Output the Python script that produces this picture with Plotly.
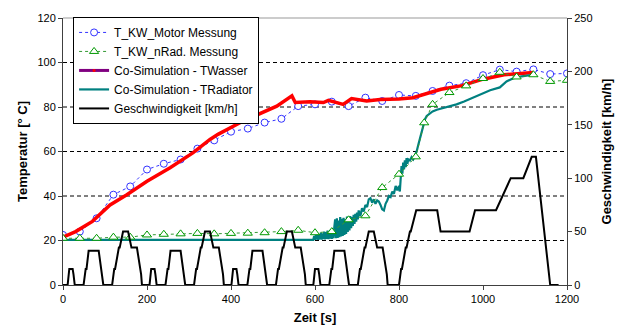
import plotly.graph_objects as go

# ---- data ----
motor_t = [0, 40, 80, 120, 160, 200, 240, 280, 320, 360, 400, 440, 480, 520, 560, 600,
           640, 680, 720, 760, 800, 840, 880, 920, 960, 1000, 1040, 1080, 1120, 1160, 1200]
motor_T = [22.5, 24.0, 30.0, 40.6, 44.3, 51.9, 54.5, 56.4, 61.3, 65.0, 68.9, 70.3, 73.0, 74.7, 80.4, 81.2,
           82.4, 80.4, 84.2, 82.7, 85.4, 85.0, 87.2, 89.6, 90.7, 94.3, 96.8, 95.9, 96.9, 94.8, 95.1]

rad_t = [0, 40, 80, 120, 160, 200, 240, 280, 320, 360, 400, 440, 480, 520, 560, 600, 640,
         680, 720, 760, 800, 840, 860, 880, 920, 960, 1000, 1040, 1080, 1120, 1160, 1200]
rad_T = [21.0, 21.0, 21.0, 21.5, 21.5, 22.5, 22.8, 23.0, 23.2, 23.0, 23.2, 23.3, 23.5, 24.0, 24.6, 23.5, 24.0,
         29.3, 31.1, 43.8, 49.8, 57.6, 72.9, 81.2, 86.5, 89.5, 92.8, 95.6, 93.5, 94.5, 91.5, 92.0]

wasser_t = [0, 30, 70, 112, 152, 200, 255, 310, 350, 369, 429, 476, 509, 545, 553, 588, 620, 632,
            667, 687, 723, 755, 800, 833, 881, 900, 950, 1000, 1050, 1085, 1120]
wasser_T = [21.5, 24.0, 28.6, 36.0, 40.6, 46.6, 52.7, 59.5, 65.4, 67.7, 73.7, 77.5, 80.4, 85.0, 82.0, 82.4, 82.0, 83.0,
            81.2, 83.8, 82.7, 83.4, 83.6, 84.2, 87.2, 88.0, 89.6, 92.5, 94.5, 95.0, 95.5]

radsim_t = [0, 100, 200, 300, 400, 500, 596,
            598, 600, 602, 604, 606, 608, 610, 612, 614, 616, 618, 620, 622, 624, 626, 628, 630, 632, 634, 636,
            638, 640, 642, 644, 646,
            648, 650, 652, 654, 656, 658, 660, 662, 664, 666, 668, 670, 672, 674, 676, 678, 680, 682, 684, 686,
            688, 690, 692, 694, 696, 698, 700, 702,
            704, 708, 712, 716, 720, 724, 728, 732, 736, 740, 744, 748, 752, 756, 760, 764, 768, 772, 776, 780,
            784, 788, 792, 796, 800, 802, 804, 806, 808, 810, 812, 814, 816, 818, 820, 822, 826, 830, 834, 838,
            842, 846, 850, 854, 858, 862, 866, 872, 880, 890, 898, 910, 925, 937, 955, 976, 995, 1017, 1040,
            1056, 1071, 1092, 1119]
radsim_T = [20.3, 20.3, 20.3, 20.3, 20.3, 20.3, 20.3,
            22.0, 20.3, 22.5, 20.4, 23.0, 20.3, 22.8, 20.5, 23.5, 20.4, 23.2, 20.6, 24.0, 20.5, 23.8, 20.7, 24.5,
            20.6, 24.2, 20.8, 25.0, 20.7, 24.6, 21.0, 26.0,
            29.5, 21.0, 30.0, 21.2, 29.0, 21.5, 30.5, 21.8, 29.8, 22.0, 30.2, 22.5, 29.5, 23.0, 30.8, 23.8, 30.0,
            24.5, 31.0, 25.5, 30.5, 26.5, 31.5, 27.5, 32.0, 28.5, 32.5, 29.5,
            33.5, 31.0, 34.5, 33.0, 36.0, 35.0, 38.5, 39.0, 37.0, 38.5, 36.5, 38.0, 37.5, 36.0, 34.0, 33.5, 36.5,
            38.0, 40.0, 39.5, 42.0, 41.0, 44.5, 42.5, 44.5, 42.0, 50.0, 53.5, 50.0, 55.0, 52.0, 56.0, 53.0, 57.0,
            54.5, 56.5, 56.0, 57.5, 56.5, 58.5, 60.0, 63.0, 66.0, 69.5, 72.0, 74.5, 76.0, 77.0, 78.0, 78.8, 79.2,
            80.0, 80.7, 81.2, 82.5, 84.2, 85.5, 87.5, 88.8, 91.5, 92.8, 93.8, 94.5]

speed_t = [0, 11, 15, 23, 25, 28, 49, 54, 56, 61, 85, 93, 96, 117, 122, 124, 133, 135, 143, 155, 163, 176, 186, 188,
           195, 206, 210, 218, 220, 223, 244, 249, 251, 256, 280, 288, 291, 312, 317, 319, 328, 330, 338, 350, 358,
           371, 381, 383,
           390, 401, 405, 413, 415, 418, 439, 444, 446, 451, 475, 483, 486, 507, 512, 514, 523, 525, 533, 545, 553,
           566, 576, 578,
           585, 596, 600, 608, 610, 613, 634, 639, 641, 646, 670, 678, 681, 702, 707, 709, 718, 720, 728, 740, 748,
           761, 771, 773,
           780, 800, 805, 807, 816, 818, 826, 828, 841, 891, 899, 968, 981, 1031, 1066, 1096, 1116, 1126, 1160, 1180]
speed_v = [0, 0, 15, 15, 10, 0, 0, 15, 15, 32, 32, 10, 0, 0, 15, 15, 35, 35, 50, 50, 35, 35, 10, 0,
           0, 0, 15, 15, 10, 0, 0, 15, 15, 32, 32, 10, 0, 0, 15, 15, 35, 35, 50, 50, 35,
           35, 10, 0,
           0, 0, 15, 15, 10, 0, 0, 15, 15, 32, 32, 10, 0, 0, 15, 15, 35, 35, 50, 50, 35,
           35, 10, 0,
           0, 0, 15, 15, 10, 0, 0, 15, 15, 32, 32, 10, 0, 0, 15, 15, 35, 35, 50, 50, 35,
           35, 10, 0,
           0, 0, 15, 15, 35, 35, 50, 50, 70, 70, 50, 50, 70, 70, 100, 100, 120, 120, 0, 0]

names = ["T_KW_Motor Messung", "T_KW_nRad. Messung", "Co-Simulation - TWasser",
         "Co-Simulation - TRadiator", "Geschwindigkeit [km/h]"]

FONT = "Liberation Sans, Arial, sans-serif"
AX = "#404040"

fig = go.Figure()
fig.add_trace(go.Scatter(x=motor_t, y=motor_T, name=names[0], mode="lines+markers", legendrank=1,
                         line=dict(color="#3333FF", width=1, dash="dot"),
                         marker=dict(symbol="circle", size=7, color="white", line=dict(color="#3333FF", width=1))))
fig.add_trace(go.Scatter(x=wasser_t, y=wasser_T, name=names[2], mode="lines", showlegend=False,
                         line=dict(color="#FF0000", width=3.5)))
fig.add_trace(go.Scatter(x=[None], y=[None], name=names[2], mode="lines+markers", legendrank=3,
                         line=dict(color="#800080", width=3), marker=dict(color="#FF0000", size=3)))
fig.add_trace(go.Scatter(x=radsim_t, y=radsim_T, name=names[3], mode="lines", legendrank=4,
                         line=dict(color="#008080", width=2.2)))
fig.add_trace(go.Scatter(x=rad_t, y=rad_T, name=names[1], mode="lines+markers", legendrank=2,
                         line=dict(color="#339933", width=1, dash="dot"),
                         marker=dict(symbol="triangle-up", size=8, color="white", line=dict(color="#009900", width=1))))
fig.add_trace(go.Scatter(x=speed_t, y=speed_v, name=names[4], mode="lines", legendrank=5, yaxis="y2",
                         line=dict(color="black", width=2)))

fig.update_layout(
    width=629, height=333,
    margin=dict(l=63, r=62, t=18, b=48, autoexpand=False),
    paper_bgcolor="white", plot_bgcolor="white",
    font=dict(family=FONT, size=11, color="black"),
    showlegend=True,
    legend=dict(x=0.02, y=1.004, xanchor="left", yanchor="top", bgcolor="white",
                bordercolor="black", borderwidth=1, font=dict(size=12, family=FONT),
                itemwidth=30, tracegroupgap=0),
    xaxis=dict(range=[0, 1200], dtick=200, showgrid=False, zeroline=False, showline=True, automargin=False,
               linecolor=AX, linewidth=1, ticks="outside", ticklen=4, tickcolor=AX,
               title=dict(text="<b>Zeit [s]</b>", font=dict(size=13), standoff=8)),
    yaxis=dict(range=[0, 120], dtick=20, showgrid=False, zeroline=False, showline=True, automargin=False,
               linecolor=AX, linewidth=1, ticks="outside", ticklen=4, tickcolor=AX,
               title=dict(text="<b>Temperatur [° C]</b>", font=dict(size=13), standoff=6)),
    yaxis2=dict(range=[0, 250], dtick=50, overlaying="y", side="right", showgrid=False, zeroline=False,
                showline=True, linecolor=AX, linewidth=1, ticks="outside", ticklen=4, automargin=False,
                tickcolor=AX,
                title=dict(text="<b>Geschwindigkeit [km/h]</b>", font=dict(size=13), standoff=10)),
)

# dashed gridlines of the temperature axis
for g in [20, 40, 60, 80, 100]:
    fig.add_shape(type="line", xref="paper", x0=0, x1=1, yref="y", y0=g, y1=g,
                  line=dict(color="black", width=1, dash="4px,3px"), layer="below")
fig.add_shape(type="line", xref="paper", x0=0, x1=1, yref="paper", y0=1, y1=1,
              line=dict(color="#999999", width=1), layer="below")

fig.write_html("out.html", config={"displayModeBar": False},
               post_script="document.body.style.margin='0px';")
